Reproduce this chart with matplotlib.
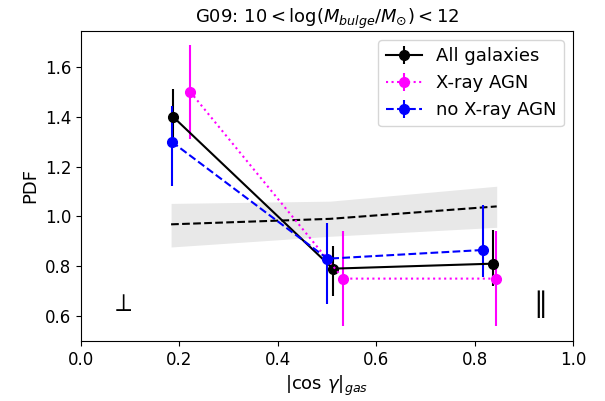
import matplotlib
matplotlib.use("Agg")
import matplotlib.pyplot as plt
import numpy as np

# All galaxies
x_all = [0.187, 0.512, 0.837]
y_all = [1.40, 0.79, 0.81]
err_all_lo = [0.11, 0.11, 0.09]
err_all_hi = [0.11, 0.09, 0.135]

# X-ray AGN
x_agn = [0.222, 0.533, 0.843]
y_agn = [1.50, 0.75, 0.75]
err_agn = [0.19, 0.19, 0.19]

# no X-ray AGN
x_noagn = [0.184, 0.501, 0.818]
y_noagn = [1.30, 0.83, 0.865]
err_noagn_lo = [0.18, 0.18, 0.11]
err_noagn_hi = [0.145, 0.145, 0.18]

# random expectation
x_rand = [0.183, 0.506, 0.845]
y_rand = [0.968, 0.99, 1.04]
band_lo = [0.877, 0.92, 0.956]
band_hi = [1.052, 1.061, 1.121]

fig = plt.figure(figsize=(6.05, 4.01), dpi=100)
ax = fig.add_axes([0.134, 0.15, 0.813, 0.773])

ax.fill_between(x_rand, band_lo, band_hi, color='#e8e8e8', lw=0)
ax.plot(x_rand, y_rand, 'k--', lw=1.5)

ax.errorbar(x_all, y_all, yerr=[err_all_lo, err_all_hi], fmt='o-', color='k',
            ms=7, lw=1.5, label='All galaxies')
ax.errorbar(x_agn, y_agn, yerr=err_agn, fmt='o:', color='magenta',
            ms=7, lw=1.5, label='X-ray AGN')
ax.errorbar(x_noagn, y_noagn, yerr=[err_noagn_lo, err_noagn_hi], fmt='o--', color='blue',
            ms=7, lw=1.5, label='no X-ray AGN')

ax.text(0.083, 0.6, r'$\perp$', fontsize=18, ha='center', va='bottom')
ax.text(0.926, 0.585, r'$\parallel$', fontsize=20, ha='center', va='bottom')

ax.set_xlim(0, 1.0)
ax.set_ylim(0.5, 1.745)
ax.set_xticks([0.0, 0.2, 0.4, 0.6, 0.8, 1.0])
ax.set_yticks([0.6, 0.8, 1.0, 1.2, 1.4, 1.6])
ax.tick_params(labelsize=12)
ax.set_xlabel(r'$|\cos\,\gamma|_{gas}$', fontsize=13)
ax.set_ylabel('PDF', fontsize=13)
ax.set_title(r'G09: $10 < \log(M_{bulge}/M_{\odot}) < 12$', fontsize=13)
ax.legend(loc='upper right', fontsize=13)

fig.savefig('out.png', dpi=100)
